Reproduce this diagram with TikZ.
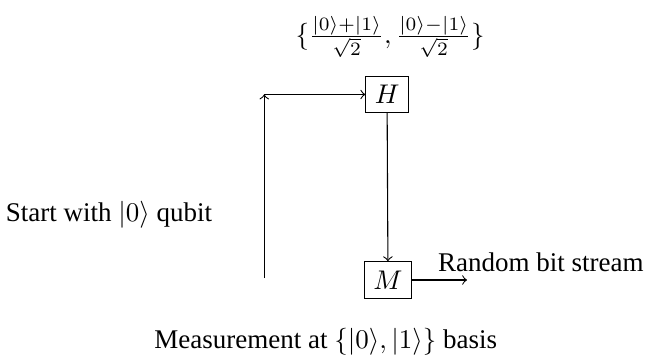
\documentclass[tikz,border=0pt]{standalone}
\usepackage{amsmath}
\usepackage{fontspec}
\setmainfont{Liberation Serif}
\usepackage{tikz}
\usetikzlibrary{positioning,calc}

\begin{document}
\begin{tikzpicture}[
  font=\normalsize,
  gate/.style={draw, inner sep=3.33pt, line width=0.4pt},
  flow/.style={->, line width=0.4pt},
  tag/.style={align=center},
]
\useasboundingbox (0,0) rectangle (8.41,4.635);

% ---- gates
\node[gate] (had) at (5.04,3.405) {$H$};
\node[gate] (meas) at (5.05,0.99) {$M$};
\coordinate (base) at (3.44,1.016);
\coordinate (corner) at (3.44,3.405);
\coordinate (out) at (6.08,0.99);

% ---- texts
\node[tag] (super) at (5.08,4.154)
  {$\{\frac{|0\rangle+|1\rangle}{\sqrt{2}},\frac{|0\rangle-|1\rangle}{\sqrt{2}}\}$};
\node[tag] (start) at (1.42,1.836) {Start with $|0\rangle$ qubit};
\node[tag] (stream) at (7.04,1.224) {Random bit stream};
\node[tag] (basis) at (4.24,0.19) {Measurement at $\{|0\rangle,|1\rangle\}$ basis};

% ---- connectors
\draw[flow] (base) -- (corner);
\draw[flow] (corner) -- (had.west);
\draw[flow] (had.south) -- (meas.north);
\draw[flow] (meas.east) -- (out);
\end{tikzpicture}
\end{document}
